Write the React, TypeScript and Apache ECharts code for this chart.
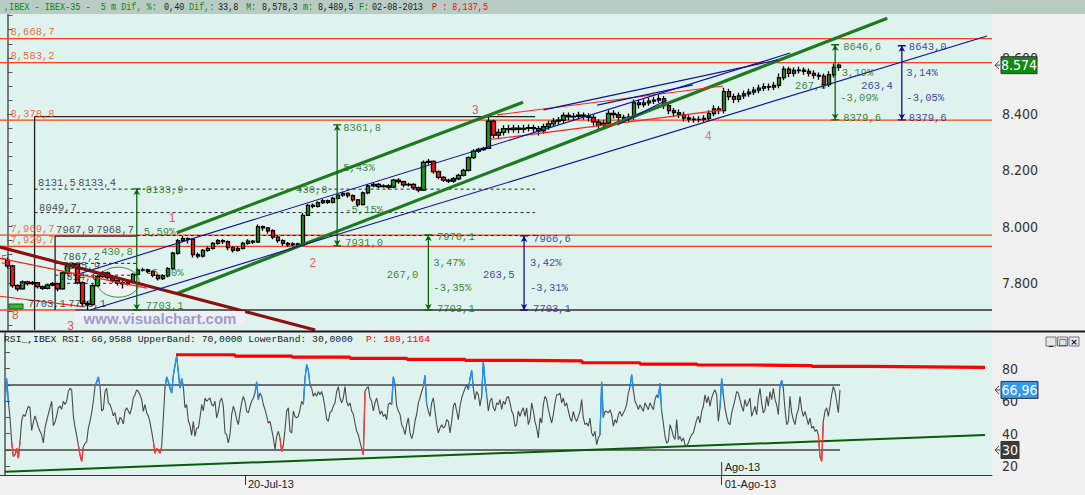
import React, { useEffect, useRef } from "react";
import * as echarts from "echarts";

// ---------- price data (30-minute aggregates) ----------
const FIRST_OPEN = 7880;
const closes = [
  7860, 7790, 7778, 7803, 7797, 7800, 7786, 7780, 7792, 7797,
  7778, 7835, 7860, 7866, 7800, 7727, 7722, 7790, 7822, 7835,
  7818, 7808, 7800, 7796, 7802, 7830, 7845, 7846, 7840, 7826,
  7815, 7825, 7850, 7905, 7950, 7957, 7955, 7900, 7895, 7915,
  7922, 7940, 7950, 7946, 7925, 7915, 7922, 7940, 7948, 7945,
  8000, 7995, 7985, 7962, 7950, 7940, 7935, 7938, 7933, 8040,
  8075, 8072, 8085, 8092, 8086, 8100, 8112, 8118, 8110, 8095,
  8078, 8120, 8145, 8150, 8142, 8145, 8140, 8165, 8160, 8148,
  8150, 8138, 8130, 8228, 8232, 8195, 8175, 8165, 8162, 8170,
  8182, 8200, 8245, 8268, 8274, 8278, 8375, 8325, 8335, 8348,
  8345, 8350, 8346, 8349, 8352, 8348, 8340, 8355, 8365, 8375,
  8378, 8395, 8390, 8392, 8396, 8393, 8388, 8372, 8360, 8368,
  8402, 8398, 8388, 8382, 8390, 8440, 8434, 8440, 8446, 8450,
  8455, 8430, 8412, 8405, 8398, 8386, 8382, 8380, 8381, 8385,
  8402, 8418, 8412, 8480, 8462, 8452, 8465, 8472, 8478, 8485,
  8492, 8498, 8496, 8502, 8530, 8560, 8545, 8555, 8556, 8552,
  8545, 8538, 8535, 8505, 8540, 8566, 8574,
];
const highs = [
  7890, 7864, 7795, 7808, 7807, 7806, 7803, 7790, 7797, 7803,
  7800, 7840, 7866, 7870, 7869, 7805, 7735, 7795, 7828, 7842,
  7840, 7822, 7812, 7806, 7808, 7835, 7852, 7853, 7850, 7844,
  7830, 7830, 7856, 7910, 7956, 7966, 7962, 7958, 7908, 7920,
  7930, 7945, 7956, 7955, 7950, 7930, 7930, 7946, 7955, 7952,
  8007, 8004, 7998, 7990, 7966, 7955, 7945, 7944, 7942, 8048,
  8080, 8082, 8090, 8098, 8096, 8106, 8118, 8124, 8122, 8114,
  8098, 8125, 8150, 8156, 8155, 8150, 8150, 8170, 8172, 8163,
  8156, 8154, 8142, 8235, 8240, 8236, 8200, 8180, 8170, 8176,
  8188, 8206, 8250, 8275, 8280, 8284, 8390, 8380, 8348, 8360,
  8362, 8362, 8360, 8362, 8364, 8362, 8358, 8366, 8376, 8386,
  8390, 8406, 8406, 8404, 8408, 8406, 8403, 8398, 8382, 8380,
  8414, 8414, 8408, 8398, 8402, 8452, 8451, 8452, 8458, 8462,
  8468, 8464, 8440, 8422, 8416, 8408, 8396, 8392, 8392, 8396,
  8414, 8431, 8428, 8494, 8490, 8472, 8476, 8484, 8490, 8496,
  8504, 8510, 8509, 8514, 8544, 8570, 8568, 8566, 8568, 8566,
  8562, 8556, 8548, 8544, 8552, 8580, 8580,
];
const lows = [
  7852, 7782, 7770, 7775, 7790, 7792, 7780, 7774, 7777, 7788,
  7770, 7775, 7830, 7852, 7795, 7715, 7703, 7718, 7785, 7818,
  7812, 7800, 7790, 7780, 7790, 7798, 7826, 7840, 7834, 7820,
  7808, 7810, 7820, 7846, 7900, 7944, 7940, 7890, 7887, 7890,
  7910, 7918, 7935, 7938, 7916, 7908, 7910, 7918, 7935, 7938,
  7942, 7985, 7975, 7955, 7942, 7932, 7928, 7930, 7928, 7930,
  8038, 8065, 8068, 8080, 8080, 8082, 8096, 8106, 8102, 8088,
  8070, 8075, 8115, 8140, 8136, 8138, 8133, 8136, 8152, 8140,
  8142, 8130, 8122, 8126, 8220, 8188, 8168, 8158, 8155, 8156,
  8165, 8178, 8196, 8240, 8262, 8270, 8276, 8315, 8312, 8324,
  8332, 8334, 8332, 8334, 8338, 8334, 8324, 8330, 8344, 8354,
  8364, 8368, 8378, 8379, 8382, 8380, 8374, 8359, 8346, 8349,
  8358, 8384, 8374, 8369, 8372, 8380, 8420, 8424, 8430, 8436,
  8440, 8418, 8399, 8392, 8386, 8374, 8371, 8369, 8370, 8371,
  8376, 8392, 8399, 8402, 8449, 8439, 8442, 8454, 8462, 8468,
  8474, 8482, 8484, 8486, 8492, 8520, 8532, 8534, 8544, 8540,
  8534, 8526, 8522, 8491, 8496, 8530, 8554,
];
const SLOT_COUNT = 198;

// ---------- RSI (read left to right) ----------
const rsi = [
  59, 74, 60, 49.7, 35, 26, 27, 31, 25, 35,
  48, 51.7, 50.7, 54, 57, 56, 42, 47, 51, 47.6,
  44, 41.5, 39.4, 34.3, 43.5, 48, 52, 56, 60, 45,
  47, 51, 56, 57, 55, 60, 58, 60, 66, 68,
  67, 51, 44, 39, 33, 27, 23, 32, 34, 35,
  43.5, 47.6, 53, 60, 69, 72, 75, 69, 54, 55,
  66, 68, 59, 58, 55, 51, 53, 47.6, 45.6, 50,
  49, 46, 54, 56, 54, 52, 56, 62, 64, 67,
  66, 64, 61, 53.8, 58, 52.8, 51, 47, 41.5, 35.3,
  28, 31, 29.5, 28, 32, 50, 68, 75, 72, 68,
  65, 76, 82, 88, 78, 68, 74, 69, 56, 58,
  48, 45, 39, 47.6, 38.4, 43.5, 43.5, 50, 58, 54,
  62, 60, 61, 62, 58, 57, 60, 49.7, 53.8, 60,
  62, 57, 40.5, 39.4, 34.3, 39.4, 51.7, 57, 53.8, 49,
  45.6, 53, 59, 63, 60, 53.8, 52.8, 56.9, 60, 62,
  65, 72, 61, 65, 63, 58, 55, 51, 46.6, 47.6,
  42.5, 37.4, 30.2, 38.4, 41.5, 37.4, 29, 33, 42.5, 53.8,
  56,
  41.5, 40.5, 54, 50.7, 49.7, 50.7, 54.8, 60, 58, 74,
  82.5, 79, 70, 68, 63, 65, 63, 66, 64, 66,
  62, 56, 49, 47.6, 53, 54, 57, 59, 66, 69,
  62, 59, 62, 69, 60, 57, 59, 54, 52, 46.6,
  41.5, 39.4, 35, 31, 27, 66, 68, 69, 62, 60,
  54, 59, 62, 57, 52, 54, 50.7, 52, 48.7, 58,
  59, 58, 75, 70, 57, 54, 52, 45.6, 43.5, 39.4,
  45.6, 49.7, 40.5, 37, 40.5, 47.6, 52, 59, 62, 66,
  69, 76, 58, 54, 50.7, 59, 62, 54, 45.6, 40.5,
  43.5, 45.6, 43.5, 44.6, 48.7, 47.6, 40.5, 47.6, 56.9, 59,
  54, 48.7, 56.9, 62, 65, 68, 70, 67, 74, 79,
  68, 61, 66, 64, 57, 63, 84.6, 72, 64, 54,
  60, 62, 56, 54, 59, 58, 61, 55, 60, 58,
  62, 63, 59, 54, 51.7, 44.6, 45.6, 54, 50.7, 54,
  56, 50.7, 56, 45.6, 48.7, 59, 54, 47.6, 43.5, 37.4,
  49.7, 46.6, 57.9, 63, 61, 55, 50.7, 46.6, 51.7, 59,
  64, 64, 65, 59, 62, 57, 59, 54,
  49.7, 47.6, 53.8, 49.7, 47.6, 50.7, 53.8, 61, 49.7, 45.6,
  46.6, 44.6, 49.7, 40.5, 38.4, 41.5, 33.3, 37.4, 39.4, 72,
  49.7, 53.8, 53.8, 52.8, 54.8, 51.7, 44.6, 48.7, 46.6, 51.7,
  53.8, 50.7, 52.8, 54.8, 57.9, 65, 69, 76.4, 67, 60,
  57.9, 54.8, 57.9, 55.8, 53.8, 59, 56.9, 54.8, 59, 56.9,
  54.8, 61, 64, 62, 71, 53.8, 46.6, 38.4, 34.3, 35.3,
  45.6, 42.5, 38.4, 36.4, 48.7, 36.4, 38.4, 35.3, 37.4, 33.3,
  32.3, 34.3, 37.4, 39.4, 40.5, 44.6, 48.7, 50.7, 46.6, 53.8,
  56.9, 64, 59, 63, 56.9, 62, 65, 67, 64, 47.6,
  55.8, 74, 64, 55.8, 50.7, 46.6, 45.6, 52.8, 56.9, 61,
  66, 65, 61, 56.9, 53.8, 61, 56.9, 59, 62, 50.7,
  53.8, 56.9, 51.7, 62, 68, 59, 52.8, 54.8, 63, 56.9,
  66, 61, 68, 61, 57.9, 51.7, 69, 73, 68, 54.8,
  45.6, 47.6, 63, 52.8, 48.7, 45.6, 51.7, 54.8, 63, 54.8,
  50.7, 53.8, 49.7, 45.6, 49.7, 43.5, 44.6, 41.5, 42.5, 39.4,
  26, 23, 47.6, 53.8, 56, 50.7, 56.9, 64, 69, 66,
  60, 53, 67,
];
const RSI_UPPER = 70;
const RSI_LOWER = 30;
const rsiResistance = [
  [102.6, 88.6], [138, 87.8], [172.2, 87.2], [207, 86.4], [241.2, 85.8],
  [276, 85.2], [310.2, 84.8], [346.2, 83.7], [381, 82.9], [415.2, 82.3],
  [450, 81.9], [484.2, 81.4], [519, 81.1], [553.2, 80.8], [588, 80.6],
];
const rsiSupport = [[0, 16.6], [588, 39.2]];
const dateTicks = [144, 430];
const dateLabels = ["20-Jul-13", "01-Ago-13"];

// ---------- drawing-tool objects (time index, price) ----------
const levelLines = [8668.7, 8583.2, 8378.8, 7969.7, 7929.7];
const levelLabels = ["8,668,7", "8,583,2", "8,378,8", "7,969,7", "7,929,7"];
const lowLevel = 7703.1;
const lowLevelOrangeSpan = [-1.5, 13.5];
const lowLevelDarkSpan = [13.5, 196.5];
const blackSolidSegs = [
  [5.4, 8390.7, 5.4, 7632],
  [5.4, 8390.7, 105.3, 8390.7],
  [9.5, 7966, 9.5, 7703.1],
  [9.5, 7966, 25.8, 7966],
];
const blackDashedSegs = [
  [5.4, 8133, 105.3, 8133],
  [5.4, 8049.7, 105.3, 8049.7],
  [25.8, 7968, 105.3, 7968],
  [9.5, 7869, 26, 7869],
  [9.5, 7827, 26, 7827],
  [9.5, 7798, 26, 7798],
];
const greenChannel = [
  [33.8, 7978, 102.9, 8442],
  [33.8, 7762, 175.6, 8741],
];
const darkRedTrend = [[-1.5, 7927, 61.4, 7632]];
const thinRedSegs = [
  [-1.5, 7887, 27.8, 7781],
  [-1.5, 7752, 15.1, 7715],
  [97.7, 8397, 142.8, 8500],
  [95.7, 8308, 142.8, 8415],
];
const navySegs = [
  [16.5, 7703, 195.5, 8678],
  [14.5, 7833, 156.2, 8617],
  [107, 8415, 153.8, 8593],
  [117.7, 8432, 136.8, 8504],
  [121.7, 8361, 131.6, 8450],
];
const greenMeasures = [
  [25.8, 8133.9, 7703.1],
  [65.8, 8361.8, 7931.0],
  [84.0, 7970.1, 7703.1],
  [165.2, 8646.6, 8379.6],
];
const navyMeasures = [
  [103.1, 7966.6, 7703.1],
  [178.5, 8643.0, 8379.6],
];
const blackNotes = [
  [6.1, 8155, "8131,5"], [14.1, 8155, "8133,4"], [6.3, 8066, "8049,7"],
  [9.7, 7988, "7967,9"], [17.7, 7988, "7968,7"],
  [10.9, 7891, "7867,2"], [10.9, 7859, "7825,9"], [10.5, 7822, "7814,6"],
  [4.1, 7724, "7703,1"], [12.1, 7724, "7703,1"],
];
const greenNotes = [
  [18.7, 7909, "430,8"], [27.2, 7981, "5,59%"], [27.6, 7834, "-5,30%"],
  [27.6, 8130, "8133,9"], [27.6, 7716, "7703,1"],
  [67.0, 8351, "8361,8"], [67.0, 8208, "5,43%"], [57.6, 8130, "430,8"],
  [67.4, 8059, "-5,15%"], [67.4, 7941, "7931,0"],
  [85.7, 7963, "7970,1"], [85.0, 7870, "3,47%"], [75.7, 7827, "267,0"],
  [85.0, 7781, "-3,35%"], [85.7, 7706, "7703,1"],
  [166.8, 8638, "8646,6"], [166.5, 8547, "3,19%"], [157.2, 8500, "267,0"],
  [166.2, 8456, "-3,09%"], [166.8, 8386, "8379,6"],
];
const navyNotes = [
  [104.9, 7956, "7966,6"], [104.3, 7870, "3,42%"], [94.9, 7827, "263,5"],
  [104.3, 7781, "-3,31%"], [104.9, 7706, "7703,1"],
  [179.9, 8638, "8643,0"], [179.4, 8547, "3,14%"], [170.4, 8500, "263,4"],
  [179.4, 8456, "-3,05%"], [179.9, 8386, "8379,6"],
];
const waveNotes = [
  [32.2, 8030, "1"], [60.3, 7870, "2"], [92.7, 8415, "3"], [139.2, 8323, "4"],
  [-1.3, 7882, "5"], [0.9, 7687, "8"], [11.9, 7648, "3"],
];
const waveColors = ["#ff2020", "#ff3a1a", "#e8204a", "#e2489a", "#e02020", "#e02020", "#e02020"];

const lastPrice = 8574;
const lastRsi = 66.96;

// header
const headerParts = [
  [4, ",IBEX - IBEX-35 -  5 m Dif, %:", "#0a8a0a"],
  [164, "0,40", "#202020"],
  [189, "Dif,:", "#0a8a0a"],
  [218, "33,8", "#202020"],
  [246, "M:", "#0a8a0a"],
  [262, "8,578,3", "#202020"],
  [303, "m:", "#0a8a0a"],
  [318, "8,489,5", "#202020"],
  [359, "F:", "#0a8a0a"],
  [372, "02-08-2013", "#202020"],
  [432, "P : 8,137,5", "#ff0000"],
];

const MONO = '"Liberation Mono", "DejaVu Sans Mono", monospace';
const NARROW = '"Liberation Sans Narrow", "DejaVu Sans Condensed", "Liberation Sans", sans-serif';

function seg(pts: number[][], color: string, width: number, type: any = "solid", z = 3) {
  return {
    type: "line",
    xAxisIndex: 1,
    yAxisIndex: 0,
    data: pts,
    symbol: "none",
    silent: true,
    lineStyle: { color, width, type },
    z,
  };
}

function noteSeries(notes: any[], color: any, fontSize = 10.5, family = MONO) {
  return {
    type: "scatter",
    xAxisIndex: 1,
    yAxisIndex: 0,
    symbolSize: 0,
    silent: true,
    z: 6,
    data: notes.map((n: any, i: number) => ({
      value: [n[0], n[1]],
      name: n[2],
      label: { color: Array.isArray(color) ? color[i] : color },
    })),
    label: {
      show: true,
      position: "right",
      distance: 0,
      formatter: "{b}",
      fontFamily: family,
      fontSize,
    },
  };
}

function measureSeries(m: number[][], color: string) {
  const out: any[] = [];
  m.forEach(([t, top, bot]) => {
    out.push({
      type: "line",
      xAxisIndex: 1,
      yAxisIndex: 0,
      silent: true,
      z: 4,
      showSymbol: true,
      symbolSize: [5, 6],
      itemStyle: { color },
      lineStyle: { color, width: 1.3 },
      data: [
        { value: [t, top], symbol: "arrow", symbolRotate: 0 },
        { value: [t, bot], symbol: "arrow", symbolRotate: 180 },
      ],
    });
    out.push(seg([[t - 0.8, top], [t + 0.8, top]], color, 1.3, "solid", 4));
    out.push(seg([[t - 0.8, bot], [t + 0.8, bot]], color, 1.3, "solid", 4));
  });
  return out;
}

function buildOption() {
  const slots = Array.from({ length: SLOT_COUNT }, (_, i) => String(i));
  const candleData = closes.map((c, k) => {
    const o = k === 0 ? FIRST_OPEN : closes[k - 1];
    return [k + 1, o, c, Math.min(lows[k], o, c), Math.max(highs[k], o, c)];
  });

  const rsiPts = rsi.map((v, j) => [j, v]);
  const overlay = (test: (v: number) => boolean) =>
    rsi.map((v, j) =>
      test(v) || (j > 0 && test(rsi[j - 1])) || (j < rsi.length - 1 && test(rsi[j + 1]))
        ? [j, v]
        : [j, "-"]
    );
  const lastJ = rsi.length - 1;

  const series: any[] = [];
  levelLines.forEach((p) => series.push(seg([[-1.5, p], [196.5, p]], "#ff4010", 1.3, "solid", 1)));
  series.push(seg([[lowLevelOrangeSpan[0], lowLevel], [lowLevelOrangeSpan[1], lowLevel]], "#ff4010", 1.3, "solid", 1));
  series.push(seg([[lowLevelDarkSpan[0], lowLevel], [lowLevelDarkSpan[1], lowLevel]], "#303030", 1.3, "solid", 1));
  blackSolidSegs.forEach((s) => series.push(seg([[s[0], s[1]], [s[2], s[3]]], "#222", 1.3, "solid", 1)));
  blackDashedSegs.forEach((s) => series.push(seg([[s[0], s[1]], [s[2], s[3]]], "#222", 1, [3, 3], 1)));

  series.push({
    type: "candlestick",
    xAxisIndex: 0,
    yAxisIndex: 0,
    data: candleData,
    encode: { x: 0, y: [1, 2, 3, 4] },
    barWidth: 4,
    silent: true,
    z: 2,
    itemStyle: {
      color: "#14a014",
      color0: "#ff1414",
      borderColor: "#000",
      borderColor0: "#000",
      borderWidth: 1.3,
    },
  });

  greenChannel.forEach((s) => series.push(seg([[s[0], s[1]], [s[2], s[3]]], "#1f7a1f", 3.2)));
  darkRedTrend.forEach((s) => series.push(seg([[s[0], s[1]], [s[2], s[3]]], "#8b1010", 3.2)));
  thinRedSegs.forEach((s) => series.push(seg([[s[0], s[1]], [s[2], s[3]]], "#ff2020", 1.2)));
  navySegs.forEach((s) => series.push(seg([[s[0], s[1]], [s[2], s[3]]], "#10109a", 1.1)));
  series.push(...measureSeries(greenMeasures, "#0b640b"));
  series.push(...measureSeries(navyMeasures, "#10108c"));

  series.push({
    type: "scatter",
    xAxisIndex: 1,
    yAxisIndex: 0,
    symbolSize: 0,
    silent: true,
    z: 6,
    data: levelLines.map((p, i) => ({ value: [0.6, p], name: levelLabels[i] })),
    label: {
      show: true,
      position: [0, -1],
      align: "left",
      verticalAlign: "bottom",
      formatter: "{b}",
      color: "#ff4010",
      fontFamily: MONO,
      fontSize: 10.5,
    },
  });
  series.push(noteSeries(blackNotes, "#1a1a1a"));
  series.push(noteSeries(greenNotes, "#0b640b"));
  series.push(noteSeries(navyNotes, "#10108c"));
  series.push(noteSeries(waveNotes, waveColors, 12, '"Liberation Sans", sans-serif'));

  // RSI panel
  const rsiSeg = (pts: any[], color: string, width: number, extra: any = {}) => ({
    type: "line",
    xAxisIndex: 2,
    yAxisIndex: 1,
    data: pts,
    symbol: "none",
    silent: true,
    lineStyle: { color, width },
    ...extra,
  });
  series.push(rsiSeg([[0, RSI_UPPER], [lastJ, RSI_UPPER]], "#454545", 1.5));
  series.push(rsiSeg([[0, RSI_LOWER], [lastJ, RSI_LOWER]], "#454545", 1.5));
  series.push(rsiSeg(rsiSupport, "#0b5a0b", 2));
  series.push(rsiSeg(rsiResistance, "#ff0000", 3.2, { step: "end" }));
  series.push(rsiSeg(rsiPts, "#4a4a4a", 1.1));
  series.push(rsiSeg(overlay((v) => v > RSI_UPPER), "#1e8fff", 1.3));
  series.push(rsiSeg(overlay((v) => v < RSI_LOWER), "#ff3a3a", 1.3));

  const axisLabelStyle = { color: "#333", fontSize: 14, fontFamily: NARROW, margin: 10 };

  return {
    animation: false,
    backgroundColor: "#f0f0f0",
    grid: [
      { left: 0, top: 14, width: 992, height: 316, show: true, backgroundColor: "#dff3ee", borderWidth: 0 },
      { left: 0, top: 333, width: 992, height: 142, show: true, backgroundColor: "#dff3ee", borderWidth: 0 },
    ],
    xAxis: [
      { type: "category", gridIndex: 0, data: slots, boundaryGap: true, show: false },
      { type: "value", gridIndex: 0, min: -1.5, max: 196.5, show: false },
      {
        type: "value",
        gridIndex: 1,
        min: -3,
        max: 592.2,
        splitLine: { show: false },
        axisLine: { show: true, lineStyle: { color: "#333", width: 1 } },
        axisTick: { show: true, customValues: dateTicks, length: 10, lineStyle: { color: "#333" } },
        axisLabel: {
          customValues: dateTicks,
          formatter: (v: number) => dateLabels[dateTicks.indexOf(v)] ?? "",
          align: "left",
          margin: 3,
          padding: [0, 0, 0, 3],
          color: "#222",
          fontSize: 11,
          fontFamily: '"Liberation Sans", sans-serif',
        },
      },
    ],
    yAxis: [
      {
        type: "value",
        gridIndex: 0,
        position: "right",
        min: 7632,
        max: 8756,
        splitLine: { show: false },
        axisLine: { show: true, lineStyle: { color: "#555", width: 1.5 } },
        axisTick: {
          show: true,
          length: 5,
          customValues: [7650, 7700, 7750, 7800, 7850, 7900, 7950, 8000, 8050, 8100, 8150, 8200, 8250, 8300, 8350, 8400, 8450, 8500, 8550, 8600, 8650, 8700, 8750],
          lineStyle: { color: "#555" },
        },
        axisLabel: {
          ...axisLabelStyle,
          customValues: [7800, 8000, 8200, 8400, 8600],
          formatter: (v: number) => (v / 1000).toFixed(3),
        },
      },
      {
        type: "value",
        gridIndex: 1,
        position: "right",
        min: 14.6,
        max: 102,
        splitLine: { show: false },
        axisLine: { show: true, lineStyle: { color: "#555", width: 1.5 } },
        axisTick: {
          show: true,
          length: 5,
          customValues: [20, 30, 40, 50, 60, 70, 80, 90],
          lineStyle: { color: "#555" },
        },
        axisLabel: { ...axisLabelStyle, customValues: [20, 40, 60, 80] },
      },
    ],
    series,
  };
}

function buildGraphics(chart: any) {
  const P = (t: number, p: number) => chart.convertToPixel({ xAxisIndex: 1, yAxisIndex: 0 }, [t, p]);
  const yPrice = (p: number) => chart.convertToPixel({ yAxisIndex: 0 }, p);
  const yRsi = (v: number) => chart.convertToPixel({ yAxisIndex: 1 }, v);
  const xRsi = (j: number) => chart.convertToPixel({ xAxisIndex: 2 }, j);

  const els: any[] = [];
  els.push({ type: "rect", silent: true, z: 10, shape: { x: 0, y: 0, width: 1085, height: 14 }, style: { fill: "#b9ccc4" } });
  headerParts.forEach(([x, text, color]) =>
    els.push({
      type: "text",
      silent: true,
      z: 11,
      x,
      y: 7.5,
      scaleY: 1.2,
      style: { text, fill: color, font: `8.5px ${MONO}`, verticalAlign: "middle", align: "left" },
    })
  );
  els.push({ type: "rect", silent: true, z: 10, shape: { x: 0, y: 330.5, width: 1085, height: 2 }, style: { fill: "#1a1a1a" } });
  els.push({
    type: "text", silent: true, z: 11, x: 4, y: 339,
    style: { text: "RSI_,IBEX RSI: 66,9588 UpperBand: 70,0000 LowerBand: 30,0000", fill: "#202020", font: `9.7px ${MONO}`, verticalAlign: "middle", align: "left" },
  });
  els.push({
    type: "text", silent: true, z: 11, x: 366, y: 339,
    style: { text: "P: 189,1164", fill: "#ff0000", font: `9.7px ${MONO}`, verticalAlign: "middle", align: "left" },
  });

  const ec = P(22.1, 7802);
  els.push({
    type: "ellipse", silent: true, z: 1,
    shape: { cx: ec[0], cy: ec[1], rx: 21, ry: 15 },
    style: { fill: "rgba(244,244,244,0.9)", stroke: "#3f8f3f", lineWidth: 1 },
  });
  els.push({ type: "rect", silent: true, z: 20, shape: { x: 75, y: 311, width: 170, height: 13 }, style: { fill: "#eef0f5" } });
  els.push({
    type: "text", silent: true, z: 21, x: 160, y: 318,
    style: { text: "www.visualchart.com", fill: "#9c9ccc", font: 'bold 15px "Liberation Sans", sans-serif', align: "center", verticalAlign: "middle" },
  });
  els.push({ type: "rect", silent: true, z: 20, shape: { x: 9, y: 304, width: 14, height: 5 }, style: { fill: "#3cb043", stroke: "#0b640b", lineWidth: 1 } });

  const tag = (y: number, w: number, text: string, fill: string) => {
    els.push({ type: "rect", silent: true, z: 30, shape: { x: 1001, y: y - 8.5, width: w, height: 17 }, style: { fill, stroke: "#333", lineWidth: 1 } });
    els.push({
      type: "text", silent: true, z: 31, x: 1001 + w / 2, y,
      style: { text, fill: "#fff", font: `14px ${NARROW}`, align: "center", verticalAlign: "middle" },
    });
    els.push({ type: "polyline", silent: true, z: 30, shape: { points: [[999, y - 4], [995, y], [999, y + 4]] }, style: { stroke: "#444", lineWidth: 1, fill: "none" } });
    els.push({ type: "line", silent: true, z: 30, shape: { x1: 995, y1: y, x2: 1000, y2: y }, style: { stroke: "#444", lineWidth: 1 } });
  };
  tag(yPrice(lastPrice), 36, "8.574", "#128a12");
  tag(yRsi(lastRsi), 37, "66,96", "#3399ee");
  tag(yRsi(RSI_LOWER), 18, "30", "#3c3c3c");

  ["_", "□", "×"].forEach((s, i) => {
    const x = 1046 + i * 11.5;
    els.push({ type: "rect", silent: true, z: 30, shape: { x, y: 337, width: 10, height: 9 }, style: { fill: "#e6e6e6", stroke: "#777", lineWidth: 1 } });
    els.push({ type: "text", silent: true, z: 31, x: x + 5, y: 341.5, style: { text: s, fill: "#111", font: 'bold 9px "DejaVu Sans", sans-serif', align: "center", verticalAlign: "middle" } });
  });

  const ax = xRsi(dateTicks[1]);
  els.push({ type: "line", silent: true, z: 20, shape: { x1: ax, y1: 462, x2: ax, y2: 475 }, style: { stroke: "#333", lineWidth: 1 } });
  els.push({
    type: "text", silent: true, z: 21, x: ax + 3, y: 467,
    style: { text: "Ago-13", fill: "#222", font: '11px "Liberation Sans", sans-serif', align: "left", verticalAlign: "middle" },
  });
  return els;
}

export default function App() {
  const ref = useRef<HTMLDivElement>(null);
  useEffect(() => {
    const el = ref.current as HTMLDivElement;
    const chart = echarts.init(el, null, { renderer: "svg" });
    chart.setOption(buildOption() as any);
    chart.setOption({ graphic: buildGraphics(chart) } as any);
    return () => chart.dispose();
  }, []);
  return <div ref={ref} style={{ position: "absolute", left: 0, top: 0, width: 1085, height: 495 }} />;
}
